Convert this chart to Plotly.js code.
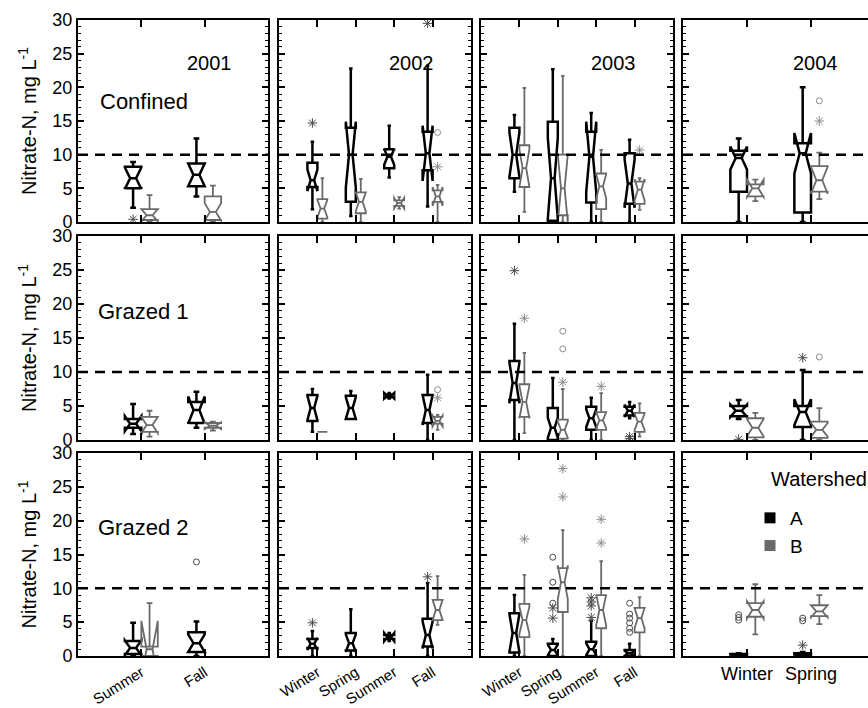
<!DOCTYPE html>
<html><head><meta charset="utf-8">
<script src="https://cdn.plot.ly/plotly-3.0.1.min.js"></script>
<style>html,body{margin:0;padding:0;overflow:hidden;background:#fff}#chart{width:880px;height:708px}</style>
</head><body><div id="chart"></div>
<script>
// ---------------- DATA ----------------
const SITES = ['Confined', 'Grazed 1', 'Grazed 2'];
const YEARS = ['2001', '2002', '2003', '2004'];
const SEASONS = [
  ['Summer', 'Fall'],
  ['Winter', 'Spring', 'Summer', 'Fall'],
  ['Winter', 'Spring', 'Summer', 'Fall'],
  ['Winter', 'Spring']
];
const Y_LIMIT = 10;                 // dashed reference line (mg/L)
const Y_RANGE = [0, 30];
const Y_TITLE = 'Nitrate-N, mg L<sup>-1</sup>';
const LEGEND_TITLE = 'Watershed';

// per season: [lowerfence, q1, median, q3, upperfence, notchspan]; null = no box
const confined2001A = [[2.1, 5.0, 6.5, 8.2, 8.9, 1.6], [3.8, 5.3, 7.0, 8.7, 12.4, 1.7]];
const confined2001B = [[0, 0.3, 1.0, 1.9, 4.0, 0.9], [0, 0.3, 1.5, 3.8, 5.4, 1.3]];
const confined2002A = [[1.9, 5.2, 6.2, 8.8, 11.9, 1.6], [0.9, 3.0, 10.0, 14.0, 22.8, 4.9], [6.6, 8.0, 9.7, 10.8, 14.3, 1.2], [2.3, 7.7, 10.2, 13.4, 23.2, 4.1]];
const confined2002B = [[0, 0.5, 2.0, 3.4, 6.5, 1.3], [0, 1.3, 3.0, 4.4, 6.4, 1.4], [2.0, 2.4, 2.8, 3.2, 3.7, 0.8], [0, 3.0, 3.8, 4.7, 5.5, 1.4]];
const confined2003A = [[4.5, 6.5, 10.0, 14.0, 15.9, 3.3], [0, 0.2, 6.5, 14.9, 22.7, 6.0], [0, 2.9, 9.7, 13.4, 16.2, 5.2], [0, 2.7, 5.7, 10.2, 12.2, 3.6]];
const confined2003B = [[1.5, 5.2, 8.0, 11.4, 19.9, 2.8], [0, 1.0, 5.0, 10.0, 21.7, 5.0], [0, 1.9, 5.3, 7.2, 10.7, 1.8], [1.8, 2.7, 4.8, 6.0, 6.5, 1.6]];
const confined2004A = [[0, 4.5, 9.5, 10.6, 12.4, 1.7], [0, 1.4, 10.2, 11.7, 20.0, 3.0]];
const confined2004B = [[3.1, 3.8, 5.0, 5.6, 6.2, 1.3], [3.4, 4.5, 6.2, 8.3, 10.3, 2.0]];

const grazed1_2001A = [[0.9, 1.8, 2.4, 3.1, 5.3, 1.1], [1.8, 2.5, 4.4, 5.6, 7.1, 2.0]];
const grazed1_2001B = [[0.5, 1.2, 2.2, 3.4, 4.3, 1.2], [1.4, 1.8, 2.1, 2.5, 2.7, 0.5]];
const grazed1_2002A = [[1.2, 2.8, 4.7, 6.6, 7.5, 1.8], [3.1, 3.1, 4.7, 6.5, 7.2, 1.6], [6.3, 6.3, 6.5, 6.7, 6.7, 0.4], [0, 2.5, 4.4, 6.6, 9.6, 2.2]];
const grazed1_2002B = [[1.2, 1.2, 1.2, 1.2, 1.2, 0], null, null, [1.5, 2.4, 2.8, 3.4, 3.7, 0.8]];
const grazed1_2003A = [[0, 5.9, 8.4, 11.6, 17.1, 3.0], [0, 0, 1.8, 4.7, 9.1, 1.5], [0, 1.5, 3.2, 4.9, 6.2, 1.3], [3.2, 3.6, 4.3, 4.9, 5.6, 0.9]];
const grazed1_2003B = [[1.0, 3.4, 5.6, 8.2, 12.8, 2.4], [0, 0.2, 1.5, 3.0, 7.5, 1.2], [0, 1.5, 2.9, 4.1, 6.9, 1.2], [0.5, 1.2, 2.7, 4.0, 5.4, 1.2]];
const grazed1_2004A = [[3.1, 3.5, 4.3, 5.0, 5.9, 0.9], [0, 1.9, 4.1, 5.0, 10.3, 1.9]];
const grazed1_2004B = [[0, 0.4, 1.8, 3.2, 4.0, 1.3], [0, 0.3, 1.5, 2.7, 4.7, 1.0]];

const grazed2_2001A = [[0, 0.3, 1.2, 2.2, 4.9, 1.1], [0, 0.6, 1.9, 3.5, 5.1, 1.3]];
const grazed2_2001B = [[0, 0, 1.0, 1.4, 7.8, 4.2], null];
const grazed2_2002A = [[0, 1.2, 1.8, 2.5, 3.7, 0.9], [0, 0.8, 1.9, 3.4, 6.9, 1.3], [2.2, 2.5, 2.8, 3.1, 3.4, 0.6], [0, 1.4, 3.1, 5.5, 10.8, 2.0]];
const grazed2_2002B = [null, null, null, [4.6, 5.3, 6.8, 8.3, 11.8, 1.5]];
const grazed2_2003A = [[0, 0.5, 3.4, 6.3, 9.0, 2.8], [0, 0, 0.9, 1.8, 2.5, 0.8], [0, 0, 1.0, 2.1, 5.2, 0.9], [0, 0, 0.4, 0.9, 1.8, 0.4]];
const grazed2_2003B = [[0, 2.8, 5.3, 7.7, 12.0, 2.0], [0, 6.5, 10.9, 13.0, 18.6, 2.5], [0, 4.1, 6.8, 9.0, 14.0, 2.3], [0, 3.5, 5.6, 7.1, 8.7, 1.5]];
const grazed2_2004A = [[0, 0, 0.1, 0.3, 0.4, 0.1], [0, 0, 0.1, 0.4, 0.6, 0.1]];
const grazed2_2004B = [[3.2, 5.8, 6.8, 7.8, 10.6, 1.3], [4.7, 5.9, 6.6, 7.5, 9.0, 0.9]];

// outliers: [season, watershed, value, kind]  ('*' extreme, 'o' outlier)
const confined2001Out = [['Summer', 'A', 0.4, '*']];
const confined2002Out = [['Winter', 'A', 14.7, '*'], ['Fall', 'A', 29.5, '*'], ['Fall', 'B', 13.3, 'o'], ['Fall', 'B', 8.2, '*']];
const confined2003Out = [['Fall', 'B', 10.7, '*']];
const confined2004Out = [['Spring', 'B', 18.0, 'o'], ['Spring', 'B', 15.0, '*']];
const grazed1_2001Out = [];
const grazed1_2002Out = [['Fall', 'B', 7.4, 'o'], ['Fall', 'B', 6.2, '*']];
const grazed1_2003Out = [['Winter', 'A', 24.9, '*'], ['Winter', 'B', 17.9, '*'], ['Spring', 'B', 16.0, 'o'], ['Spring', 'B', 13.4, 'o'], ['Spring', 'B', 8.5, '*'], ['Summer', 'B', 7.9, '*'], ['Fall', 'A', 0.5, '*'], ['Fall', 'A', 0.2, '*']];
const grazed1_2004Out = [['Winter', 'A', 0.1, '*'], ['Spring', 'A', 12.1, '*'], ['Spring', 'B', 12.2, 'o']];
const grazed2_2001Out = [['Fall', 'A', 13.9, 'o']];
const grazed2_2002Out = [['Winter', 'A', 4.9, '*'], ['Fall', 'A', 11.7, '*']];
const grazed2_2003Out = [['Winter', 'B', 17.3, '*'], ['Spring', 'A', 14.6, 'o'], ['Spring', 'A', 10.9, 'o'], ['Spring', 'A', 7.8, 'o'], ['Spring', 'A', 7.1, '*'], ['Spring', 'A', 5.6, '*'],
  ['Spring', 'B', 27.7, '*'], ['Spring', 'B', 23.5, '*'], ['Summer', 'A', 8.6, '*'], ['Summer', 'A', 8.0, '*'], ['Summer', 'A', 7.4, '*'], ['Summer', 'A', 5.7, '*'],
  ['Summer', 'B', 20.2, '*'], ['Summer', 'B', 16.7, '*'], ['Fall', 'A', 7.8, 'o'], ['Fall', 'A', 6.2, 'o'], ['Fall', 'A', 5.6, 'o'], ['Fall', 'A', 4.9, 'o'], ['Fall', 'A', 4.1, 'o'], ['Fall', 'A', 3.5, 'o']];
const grazed2_2004Out = [['Winter', 'A', 6.1, 'o'], ['Winter', 'A', 5.7, 'o'], ['Winter', 'A', 5.3, 'o'], ['Spring', 'A', 5.6, 'o'], ['Spring', 'A', 5.2, 'o'], ['Spring', 'A', 1.6, '*']];

const PANELS = [
  [[confined2001A, confined2001B, confined2001Out], [confined2002A, confined2002B, confined2002Out], [confined2003A, confined2003B, confined2003Out], [confined2004A, confined2004B, confined2004Out]],
  [[grazed1_2001A, grazed1_2001B, grazed1_2001Out], [grazed1_2002A, grazed1_2002B, grazed1_2002Out], [grazed1_2003A, grazed1_2003B, grazed1_2003Out], [grazed1_2004A, grazed1_2004B, grazed1_2004Out]],
  [[grazed2_2001A, grazed2_2001B, grazed2_2001Out], [grazed2_2002A, grazed2_2002B, grazed2_2002Out], [grazed2_2003A, grazed2_2003B, grazed2_2003Out], [grazed2_2004A, grazed2_2004B, grazed2_2004Out]]
];
const WATERSHEDS = ['A', 'B'];

// ---------------- STYLE / LAYOUT ----------------
const FONT = 'Liberation Sans, Arial, Helvetica, sans-serif';
const FIG_W = 880, FIG_H = 708;
const MARGIN = {l: 78, r: 5, t: 20, b: 52};
const COL_PX = [[78, 268], [279, 471], [481, 673], [683, 875]];
const ROW_PX = [[20, 222], [236, 440], [453, 656]];
const BOX_GAP = 0.48;
const OFFSET = (1 - BOX_GAP) / 4;
const WS_STYLE = {
  A: {color: '#000000', width: 2.5, out: '#4a4a4a'},
  B: {color: '#6a6a6a', width: 1.8, out: '#8c8c8c'}
};

const plotW = FIG_W - MARGIN.l - MARGIN.r;
const plotH = FIG_H - MARGIN.t - MARGIN.b;
const xDom = c => [(COL_PX[c][0] - MARGIN.l) / plotW, Math.min(1, (COL_PX[c][1] - MARGIN.l) / plotW)];
const yDom = r => [Math.max(0, 1 - (ROW_PX[r][1] - MARGIN.t) / plotH), 1 - (ROW_PX[r][0] - MARGIN.t) / plotH];

const traces = [];
const layout = {
  width: FIG_W, height: FIG_H, margin: MARGIN,
  paper_bgcolor: '#ffffff', plot_bgcolor: '#ffffff',
  font: {family: FONT, size: 18, color: '#000'},
  boxmode: 'group', boxgap: BOX_GAP, boxgroupgap: 0,
  showlegend: true,
  legend: {x: (750 - MARGIN.l) / plotW, xanchor: 'left', y: 1 - (499 - MARGIN.t) / plotH, yanchor: 'top',
           bgcolor: 'rgba(0,0,0,0)', font: {size: 19, family: FONT}, tracegroupgap: 0},
  annotations: [], shapes: []
};

for (let r = 0; r < 3; r++) {
  for (let c = 0; c < 4; c++) {
    const k = r * 4 + c + 1;
    const sfx = k === 1 ? '' : String(k);
    const xa = 'x' + sfx, ya = 'y' + sfx;
    const seasons = SEASONS[c];
    const panel = PANELS[r][c];

    WATERSHEDS.forEach((w, wi) => {
      const stats = panel[wi];
      const t = {type: 'box', orientation: 'v', name: w, offsetgroup: w, xaxis: xa, yaxis: ya, showlegend: false,
        x: [], lowerfence: [], q1: [], median: [], q3: [], upperfence: [], notchspan: [],
        notched: true, notchwidth: 0.32, whiskerwidth: 0.35, boxpoints: false,
        line: {color: WS_STYLE[w].color, width: WS_STYLE[w].width},
        fillcolor: 'rgba(255,255,255,0)', hoverinfo: 'none'};
      stats.forEach((s, i) => {
        if (!s) return;
        t.x.push(i + 1);
        t.lowerfence.push(s[0]); t.q1.push(s[1]); t.median.push(s[2]);
        t.q3.push(s[3]); t.upperfence.push(s[4]); t.notchspan.push(s[5]);
      });
      traces.push(t);
    });

    // outlier markers
    const outs = panel[2];
    WATERSHEDS.forEach((w, wi) => {
      ['*', 'o'].forEach(kind => {
        const pts = outs.filter(o => o[1] === w && o[3] === kind);
        if (!pts.length) return;
        traces.push({type: 'scatter', mode: 'markers', xaxis: xa, yaxis: ya, showlegend: false, hoverinfo: 'none',
          x: pts.map(o => seasons.indexOf(o[0]) + 1 + (wi === 0 ? -OFFSET : OFFSET)),
          y: pts.map(o => o[2]),
          marker: kind === '*'
            ? {symbol: 'asterisk-open', size: 8, color: WS_STYLE[w].out, line: {color: WS_STYLE[w].out, width: 1}}
            : {symbol: 'circle-open', size: 6, color: WS_STYLE[w].out, line: {color: WS_STYLE[w].out, width: 1}}
        });
      });
    });

    layout['xaxis' + sfx] = {
      domain: xDom(c), anchor: ya, range: [0, seasons.length + 1],
      tickmode: 'array', tickvals: seasons.map((s, i) => i + 1), ticktext: seasons,
      showticklabels: r === 2, tickangle: c === 3 ? 0 : -32, tickfont: {size: c === 3 ? 18 : 15},
      ticks: 'inside', ticklen: 7, tickwidth: 2, tickcolor: '#000',
      showline: true, linewidth: 2, linecolor: '#000', mirror: 'ticks',
      showgrid: false, zeroline: false, fixedrange: true
    };
    const yax = {
      domain: yDom(r), anchor: xa, range: Y_RANGE, dtick: 5, tick0: 0,
      showticklabels: c === 0, tickfont: {size: 18},
      ticks: 'inside', ticklen: 6, tickwidth: 2, tickcolor: '#000',
      minor: {dtick: 1, tick0: 0, ticks: 'inside', ticklen: 3, tickwidth: 1, tickcolor: '#000', showgrid: false},
      showline: true, linewidth: 2, linecolor: '#000', mirror: 'ticks',
      showgrid: false, zeroline: false, fixedrange: true
    };
    if (c === 0) yax.title = {text: Y_TITLE, font: {size: 20}, standoff: 10};
    layout['yaxis' + sfx] = yax;

    layout.shapes.push({type: 'line', xref: xa + ' domain', yref: ya, x0: 0, x1: 1, y0: Y_LIMIT, y1: Y_LIMIT,
      line: {color: '#000', width: 2.5, dash: '10px,7px'}, layer: 'above'});

    if (r === 0) layout.annotations.push({xref: xa + ' domain', yref: ya + ' domain', x: 0.69, y: 0.787,
      text: YEARS[c], showarrow: false, font: {size: 20}, xanchor: 'center', yanchor: 'middle'});
    if (c === 0) layout.annotations.push({xref: xa + ' domain', yref: ya + ' domain', x: 0.345, y: [0.599, 0.632, 0.635][r],
      text: SITES[r], showarrow: false, font: {size: 22}, xanchor: 'center', yanchor: 'middle'});
  }
}

layout.annotations.push({xref: 'paper', yref: 'paper', x: (769 - MARGIN.l) / plotW, y: 1 - (479 - MARGIN.t) / plotH,
  text: LEGEND_TITLE, showarrow: false, font: {size: 20}, xanchor: 'left', yanchor: 'middle'});

// legend entries (filled squares)
WATERSHEDS.forEach(w => traces.push({type: 'scatter', mode: 'markers', x: [null], y: [null], xaxis: 'x12', yaxis: 'y12',
  name: w, showlegend: true, hoverinfo: 'none', marker: {symbol: 'square', size: 11, color: WS_STYLE[w].color}}));

Plotly.newPlot('chart', traces, layout, {displayModeBar: false, staticPlot: true});
</script></body></html>
